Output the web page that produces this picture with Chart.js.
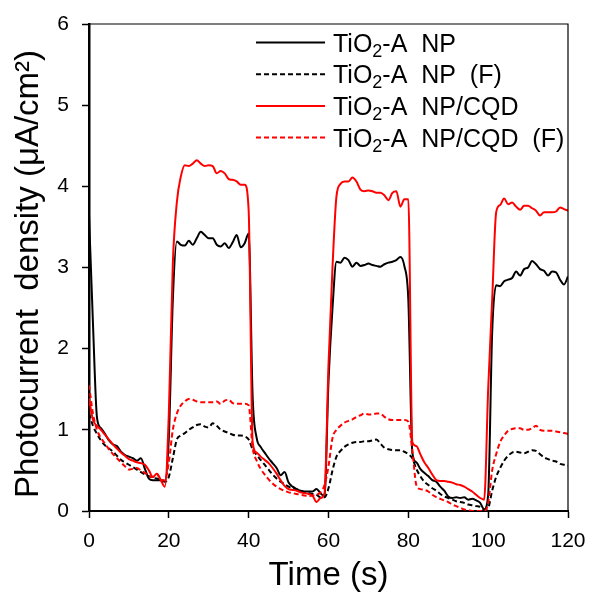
<!DOCTYPE html>
<html>
<head>
<meta charset="utf-8">
<title>Photocurrent density</title>
<script src="https://cdn.jsdelivr.net/npm/chart.js@4.4.1/dist/chart.umd.min.js"></script>
<style>
  html, body { margin: 0; padding: 0; background: #fff; }
  #wrap { width: 594px; height: 592px; position: relative; }
</style>
</head>
<body>
<div id="wrap"><canvas id="chart"></canvas></div>
<script>
// sampling times (s)
const time = [
  0, 1, 2, 3, 4, 5, 6, 7, 8, 9, 10, 11, 12, 13, 14, 15, 16, 17, 18, 19,
  20, 21, 22, 23, 24, 25, 26, 27, 28, 29, 30, 31, 32, 33, 34, 35, 36, 37, 38, 39,
  40, 41, 42, 43, 44, 45, 46, 47, 48, 49, 50, 51, 52, 53, 54, 55, 56, 57, 58, 59,
  60, 61, 62, 63, 64, 65, 66, 67, 68, 69, 70, 71, 72, 73, 74, 75, 76, 77, 78, 79,
  80, 81, 82, 83, 84, 85, 86, 87, 88, 89, 90, 91, 92, 93, 94, 95, 96, 97, 98, 99,
  100, 101, 102, 103, 104, 105, 106, 107, 108, 109, 110, 111, 112, 113, 114, 115, 116, 117, 118, 119,
  120
];

// photocurrent density (uA/cm2), one value per second
const npCurrent = [
  3.65, 2.3, 1.15, 1.02, 0.95, 0.87, 0.82, 0.80, 0.73, 0.69, 0.67, 0.65, 0.62, 0.65, 0.52, 0.40, 0.38, 0.38, 0.38, 0.37,
  0.9, 2.6, 3.32, 3.28, 3.27, 3.33, 3.28, 3.36, 3.44, 3.40, 3.36, 3.36, 3.28, 3.26, 3.30, 3.24, 3.31, 3.40, 3.25, 3.30,
  3.42, 1.4, 0.90, 0.79, 0.72, 0.65, 0.59, 0.53, 0.44, 0.48, 0.35, 0.30, 0.27, 0.25, 0.24, 0.24, 0.24, 0.27, 0.22, 0.18,
  1.6, 2.5, 3.07, 3.06, 3.12, 3.09, 3.01, 3.06, 3.02, 3.03, 3.05, 3.03, 3.02, 3.01, 3.04, 3.06, 3.07, 3.09, 3.13, 3.02,
  2.6, 0.72, 0.60, 0.52, 0.47, 0.43, 0.38, 0.36, 0.30, 0.25, 0.18, 0.16, 0.17, 0.16, 0.17, 0.14, 0.15, 0.13, 0.10, 0.02,
  0.2, 2.2, 2.78, 2.77, 2.83, 2.85, 2.87, 2.95, 2.90, 2.98, 3.00, 3.08, 3.04, 2.98, 2.96, 2.90, 2.95, 2.94, 2.85, 2.79,
  2.89
];
const npFCurrent = [
  1.2, 1.05, 0.95, 0.87, 0.81, 0.77, 0.73, 0.68, 0.63, 0.60, 0.57, 0.54, 0.51, 0.48, 0.45, 0.43, 0.41, 0.40, 0.38, 0.36,
  0.42, 0.65, 0.88, 0.93, 0.96, 1.00, 1.03, 1.06, 1.07, 1.04, 1.03, 1.08, 1.05, 1.00, 0.98, 0.96, 0.94, 0.93, 0.93, 0.92,
  0.88, 0.76, 0.69, 0.63, 0.57, 0.51, 0.45, 0.40, 0.36, 0.33, 0.30, 0.28, 0.27, 0.25, 0.23, 0.22, 0.21, 0.20, 0.17, 0.17,
  0.28, 0.50, 0.67, 0.74, 0.79, 0.82, 0.84, 0.85, 0.85, 0.86, 0.86, 0.87, 0.88, 0.83, 0.78, 0.76, 0.75, 0.75, 0.75, 0.73,
  0.70, 0.65, 0.52, 0.43, 0.36, 0.32, 0.28, 0.25, 0.21, 0.18, 0.16, 0.14, 0.12, 0.11, 0.10, 0.08, 0.07, 0.06, 0.05, 0.02,
  0.04, 0.25, 0.42, 0.53, 0.62, 0.68, 0.72, 0.73, 0.72, 0.71, 0.73, 0.75, 0.74, 0.70, 0.66, 0.64, 0.62, 0.61, 0.58, 0.57,
  0.56
];
const cqdCurrent = [
  1.39, 1.12, 1.05, 1.00, 0.94, 0.88, 0.82, 0.77, 0.72, 0.68, 0.64, 0.62, 0.60, 0.59, 0.57, 0.50, 0.42, 0.46, 0.38, 0.30,
  1.2, 3.05, 3.80, 4.12, 4.26, 4.25, 4.28, 4.32, 4.28, 4.25, 4.26, 4.25, 4.16, 4.19, 4.16, 4.09, 4.08, 4.06, 4.02, 4.02,
  3.70, 0.85, 0.72, 0.67, 0.63, 0.59, 0.53, 0.46, 0.38, 0.31, 0.27, 0.26, 0.25, 0.23, 0.22, 0.21, 0.19, 0.11, 0.16, 0.22,
  1.8, 3.0, 3.88, 4.03, 4.06, 4.06, 4.11, 4.06, 3.96, 3.94, 3.95, 3.94, 3.92, 3.92, 3.89, 3.83, 3.92, 3.94, 3.75, 3.84,
  3.84, 0.85, 0.80, 0.70, 0.60, 0.53, 0.45, 0.38, 0.37, 0.37, 0.36, 0.35, 0.33, 0.32, 0.30, 0.27, 0.24, 0.20, 0.16, 0.14,
  1.5, 2.6, 3.68, 3.77, 3.85, 3.78, 3.80, 3.75, 3.71, 3.76, 3.76, 3.73, 3.70, 3.64, 3.68, 3.68, 3.68, 3.69, 3.74, 3.72,
  3.70
];
const cqdFCurrent = [
  1.55, 1.20, 1.00, 0.90, 0.83, 0.76, 0.70, 0.65, 0.60, 0.55, 0.51, 0.52, 0.53, 0.50, 0.47, 0.43, 0.42, 0.46, 0.38, 0.38,
  0.60, 1.00, 1.20, 1.30, 1.35, 1.38, 1.37, 1.35, 1.34, 1.34, 1.34, 1.34, 1.35, 1.32, 1.36, 1.37, 1.33, 1.32, 1.32, 1.32,
  1.30, 0.78, 0.62, 0.52, 0.45, 0.39, 0.34, 0.30, 0.27, 0.25, 0.23, 0.22, 0.21, 0.20, 0.19, 0.18, 0.19, 0.20, 0.23, 0.32,
  0.55, 0.90, 1.00, 1.05, 1.09, 1.11, 1.13, 1.16, 1.18, 1.20, 1.19, 1.19, 1.20, 1.20, 1.16, 1.13, 1.12, 1.12, 1.12, 1.12,
  1.10, 0.75, 0.32, 0.27, 0.26, 0.24, 0.20, 0.17, 0.15, 0.13, 0.11, 0.08, 0.06, 0.04, 0.02, 0.01, 0, 0, 0, 0,
  0.10, 0.50, 0.70, 0.85, 0.93, 0.99, 1.01, 1.02, 1.02, 1.00, 1.00, 1.02, 1.05, 1.00, 0.99, 0.99, 0.99, 0.98, 0.97, 0.96,
  0.95
];

const seriesNames = ['TiO₂-A  NP', 'TiO₂-A  NP  (F)', 'TiO₂-A  NP/CQD', 'TiO₂-A  NP/CQD  (F)'];
const xTicks = [0, 20, 40, 60, 80, 100, 120];
const yTicks = [0, 1, 2, 3, 4, 5, 6];
const yTitle = 'Photocurrent  density (μA/cm²)';

const FONT = '"Liberation Sans", Arial, sans-serif';

function points(values) {
  return time.map((t, i) => ({ x: t, y: values[i] }));
}

function line(label, values, color, dashed, order) {
  return {
    label: label,
    data: points(values),
    borderColor: color,
    backgroundColor: color,
    borderWidth: 2,
    borderDash: dashed ? [5, 3] : [],
    pointRadius: 0,
    cubicInterpolationMode: 'monotone',
    fill: false,
    order: order
  };
}

// legend drawn inside the plot, top right, with a real subscript 2
const insideLegend = {
  id: 'insideLegend',
  afterDatasetsDraw(chart) {
    const ctx = chart.ctx;
    const area = chart.chartArea;
    const x0 = area.left + 167;
    const x1 = x0 + 69;
    chart.data.datasets.forEach((ds, i) => {
      const y = area.top + 18.5 + i * 31.7;
      ctx.save();
      ctx.strokeStyle = ds.borderColor;
      ctx.lineWidth = 2;
      ctx.setLineDash(ds.borderDash);
      ctx.beginPath();
      ctx.moveTo(x0, y);
      ctx.lineTo(x1, y);
      ctx.stroke();
      ctx.setLineDash([]);
      ctx.fillStyle = '#000';
      ctx.textBaseline = 'alphabetic';
      let x = x1 + 8;
      const parts = ds.label.split('₂');
      parts.forEach((p, k) => {
        ctx.font = '25px ' + FONT;
        ctx.fillText(p, x, y + 9);
        x += ctx.measureText(p).width;
        if (k < parts.length - 1) {
          ctx.font = '18px ' + FONT;
          ctx.fillText('2', x, y + 14);
          x += ctx.measureText('2').width;
        }
      });
      ctx.restore();
    });
  }
};

// thin top and right frame lines, plus the rotated y title
const frame = {
  id: 'frame',
  afterDraw(chart) {
    const ctx = chart.ctx;
    const a = chart.chartArea;
    ctx.save();
    ctx.strokeStyle = '#000';
    ctx.lineWidth = 1.2;
    ctx.beginPath();
    ctx.moveTo(a.left, a.top);
    ctx.lineTo(a.right, a.top);
    ctx.lineTo(a.right, a.bottom);
    ctx.stroke();

    ctx.translate(28.5, 274);
    ctx.rotate(-Math.PI / 2);
    ctx.font = '33px ' + FONT;
    ctx.fillStyle = '#000';
    ctx.textAlign = 'center';
    ctx.textBaseline = 'middle';
    ctx.fillText(yTitle, 0, 0);
    ctx.restore();
  }
};

new Chart(document.getElementById('chart').getContext('2d'), {
  type: 'line',
  data: {
    datasets: [
      line(seriesNames[0], npCurrent, '#000000', false, 3),
      line(seriesNames[1], npFCurrent, '#000000', true, 2),
      line(seriesNames[2], cqdCurrent, '#ff0000', false, 1),
      line(seriesNames[3], cqdFCurrent, '#ff0000', true, 0)
    ]
  },
  options: {
    responsive: true,
    maintainAspectRatio: false,
    animation: false,
    layout: { padding: { top: 24, right: 26, left: 0, bottom: 0 } },
    plugins: {
      legend: { display: false },
      tooltip: { enabled: false }
    },
    scales: {
      x: {
        type: 'linear',
        min: 0,
        max: 120,
        afterBuildTicks: axis => { axis.ticks = xTicks.map(v => ({ value: v })); },
        afterFit: axis => { axis.height = 81; axis.paddingLeft = 0; axis.paddingRight = 0; },
        ticks: { color: '#000', font: { family: FONT, size: 21 }, padding: 11, maxRotation: 0 },
        grid: { drawOnChartArea: false, drawTicks: true, tickLength: 7, tickColor: '#000', tickWidth: 1.5 },
        border: { display: true, color: '#000', width: 2 },
        title: {
          display: true,
          text: 'Time (s)',
          color: '#000',
          font: { family: FONT, size: 33, lineHeight: 1 },
          padding: { top: 0, bottom: 0 }
        }
      },
      y: {
        type: 'linear',
        min: 0,
        max: 6,
        afterBuildTicks: axis => { axis.ticks = yTicks.map(v => ({ value: v })); },
        afterFit: axis => { axis.width = 89; axis.paddingTop = 0; axis.paddingBottom = 0; },
        ticks: { color: '#000', font: { family: FONT, size: 21 }, padding: 13 },
        grid: { drawOnChartArea: false, drawTicks: true, tickLength: 7, tickColor: '#000', tickWidth: 1.5 },
        border: { display: true, color: '#000', width: 2.5 }
      }
    }
  },
  plugins: [insideLegend, frame]
});
</script>
</body>
</html>
